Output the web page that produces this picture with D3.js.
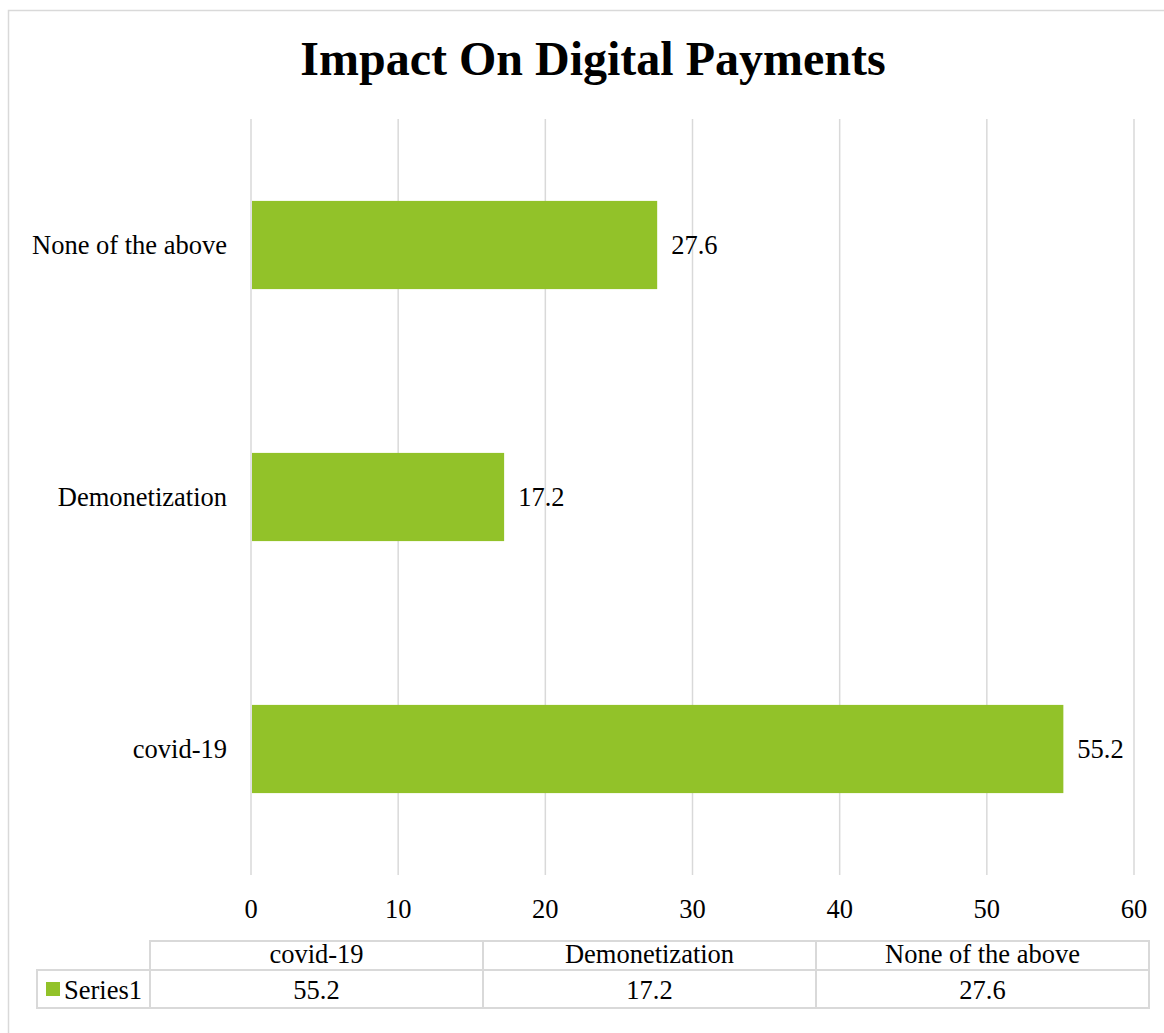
<!DOCTYPE html>
<html>
<head>
<meta charset="utf-8">
<script src="https://cdn.jsdelivr.net/npm/d3@7"></script>
<style>
  body { margin: 0; background: #fff; }
  svg text { font-family: "Liberation Serif", "Times New Roman", serif; fill: #000; }
</style>
</head>
<body>
<div id="vis"></div>
<script>
const categories = ["covid-19", "Demonetization", "None of the above"];
const values = [55.2, 17.2, 27.6];
const seriesName = "Series1";
const xTicks = [0, 10, 20, 30, 40, 50, 60];

const W = 1164, H = 1033;
const plot = { left: 251, right: 1134, top: 119, bottom: 875 };
const barColor = "#92c229";
const gridColor = "#d9d9d9";

const data = categories.map((c, i) => ({ cat: c, val: values[i] }));

const svg = d3.select("#vis").append("svg")
    .attr("width", W)
    .attr("height", H);

// chart frame
svg.append("rect")
    .attr("x", 8.5).attr("y", 10.5)
    .attr("width", W).attr("height", H)
    .attr("fill", "none")
    .attr("stroke", gridColor)
    .attr("stroke-width", 1.5);

svg.append("text")
    .attr("x", 593).attr("y", 75)
    .attr("text-anchor", "middle")
    .style("font-size", "48px")
    .style("font-weight", "bold")
    .text("Impact On Digital Payments");

const x = d3.scaleLinear().domain([0, 60]).range([plot.left, plot.right]);
const y = d3.scaleBand()
    .domain(categories.slice().reverse())
    .range([plot.top, plot.bottom])
    .paddingInner(0.65)
    .paddingOuter(0.325);

// gridlines
svg.append("g")
    .selectAll("line")
    .data(xTicks)
    .join("line")
    .attr("x1", d => x(d)).attr("x2", d => x(d))
    .attr("y1", plot.top).attr("y2", plot.bottom)
    .attr("stroke", gridColor)
    .attr("stroke-width", 1.5);

// x tick labels
svg.append("g")
    .selectAll("text")
    .data(xTicks)
    .join("text")
    .attr("x", d => x(d))
    .attr("y", 918)
    .attr("text-anchor", "middle")
    .style("font-size", "26.5px")
    .text(d => d);

// bars
svg.append("g")
    .selectAll("rect")
    .data(data)
    .join("rect")
    .attr("x", x(0) + 1)
    .attr("y", d => y(d.cat))
    .attr("width", d => x(d.val) - x(0) - 1)
    .attr("height", y.bandwidth())
    .attr("fill", barColor);

// value labels
svg.append("g")
    .selectAll("text")
    .data(data)
    .join("text")
    .attr("x", d => x(d.val) + 14)
    .attr("y", d => y(d.cat) + y.bandwidth() / 2 + 9)
    .style("font-size", "26.5px")
    .text(d => d.val);

// category labels
svg.append("g")
    .selectAll("text")
    .data(data)
    .join("text")
    .attr("x", 227)
    .attr("y", d => y(d.cat) + y.bandwidth() / 2 + 9)
    .attr("text-anchor", "end")
    .style("font-size", "26.5px")
    .text(d => d.cat);

// data table
const tbl = { legendLeft: 37, left: 150, right: 1149, top: 941, mid: 970, bottom: 1008 };
const colX = d3.scaleBand().domain(categories).range([tbl.left, tbl.right]);
const tg = svg.append("g")
    .attr("stroke", gridColor)
    .attr("stroke-width", 2)
    .attr("fill", "none");

tg.append("rect")
    .attr("x", tbl.left).attr("y", tbl.top)
    .attr("width", tbl.right - tbl.left).attr("height", tbl.bottom - tbl.top);
tg.append("rect")
    .attr("x", tbl.legendLeft).attr("y", tbl.mid)
    .attr("width", tbl.left - tbl.legendLeft).attr("height", tbl.bottom - tbl.mid);
tg.append("line")
    .attr("x1", tbl.left).attr("x2", tbl.right)
    .attr("y1", tbl.mid).attr("y2", tbl.mid);
tg.selectAll(".col")
    .data(categories.slice(1))
    .join("line")
    .attr("class", "col")
    .attr("x1", d => colX(d)).attr("x2", d => colX(d))
    .attr("y1", tbl.top).attr("y2", tbl.bottom);

svg.append("g")
    .selectAll("text")
    .data(categories)
    .join("text")
    .attr("x", d => colX(d) + colX.bandwidth() / 2)
    .attr("y", 963)
    .attr("text-anchor", "middle")
    .style("font-size", "26.5px")
    .text(d => d);

svg.append("g")
    .selectAll("text")
    .data(data)
    .join("text")
    .attr("x", d => colX(d.cat) + colX.bandwidth() / 2)
    .attr("y", 999)
    .attr("text-anchor", "middle")
    .style("font-size", "26.5px")
    .text(d => d.val);

svg.append("rect")
    .attr("x", 46).attr("y", 982)
    .attr("width", 14).attr("height", 14)
    .attr("fill", barColor);

svg.append("text")
    .attr("x", 64).attr("y", 999)
    .style("font-size", "26.5px")
    .text(seriesName);
</script>
</body>
</html>
